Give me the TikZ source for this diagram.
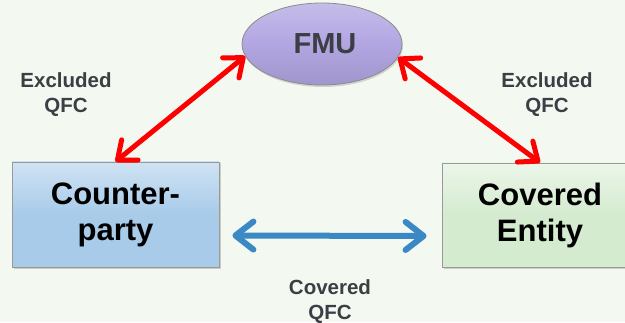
\documentclass[tikz,border=0pt]{standalone}
\usepackage{fontspec}
\setmainfont{Liberation Sans}
\usetikzlibrary{arrows.meta,shapes.geometric,shadows}
\definecolor{bgcol}{HTML}{F3F8F0}
\definecolor{txtgray}{HTML}{3B3E44}
\definecolor{cptyblue}{HTML}{A8CBE9}
\definecolor{entgreen}{HTML}{D4EBCF}
\definecolor{fmulav}{HTML}{B2A6E2}
\definecolor{arrowblue}{HTML}{3A89C5}
\tikzset{
	party/.style={draw=black!40, line width=0.8pt, rectangle, align=center, font=\fontsize{31}{36}\selectfont\bfseries, drop shadow={opacity=0.35, shadow xshift=1.5pt, shadow yshift=-1.5pt}},
	qfclabel/.style={align=center, text=txtgray, font=\fontsize{20.5}{25}\selectfont\bfseries},
	redlink/.style={draw=red, line width=5pt, line cap=round, {Straight Barb[length=16pt, width=26pt, round]}-{Straight Barb[length=16pt, width=26pt, round]}},
	bluelink/.style={draw=arrowblue, line width=6pt, line cap=round, {Straight Barb[length=18pt, width=28pt, round]}-{Straight Barb[length=18pt, width=28pt, round]}}
}

\begin{document}
\begin{tikzpicture}[x=1pt, y=1pt]
			%%%%% START %%%%%
			
			\fill[bgcol] (0, 0) rectangle (625, 322);
			\useasboundingbox (0, 0) rectangle (625, 322);
			
			\node[party, top color=cptyblue!55!white, bottom color=cptyblue, middle color=cptyblue, minimum width=207pt, minimum height=105pt] (cpty) at (115.5, 107.5) {Counter-\\party};
			\node[party, top color=entgreen!45!white, bottom color=entgreen, middle color=entgreen, minimum width=196pt, minimum height=104pt] (entity) at (540, 107) {Covered\\Entity};
			
			\node[ellipse, draw=black!45, line width=0.8pt, top color=fmulav!75!white, bottom color=fmulav!90!black, middle color=fmulav, minimum width=160pt, minimum height=82pt, text=txtgray, font=\fontsize{29}{32}\selectfont\bfseries, drop shadow={opacity=0.3, shadow xshift=1pt, shadow yshift=-2pt}] (fmu) at (322, 278) {\hspace{6pt}\raisebox{-7pt}{FMU}};
			
			\node[qfclabel] (exleft) at (66, 227) {Excluded\\QFC};
			\node[qfclabel] (exright) at (547, 227) {Excluded\\QFC};
			\node[qfclabel] (covqfc) at (330, 20) {Covered\\QFC};
			
			\draw[redlink] (cpty.north) -- (fmu.189);
			\draw[redlink] (entity.north) -- (fmu.350);
			\draw[bluelink] ([shift={(13pt,-21pt)}]cpty.east) -- ([shift={(-15pt,-21pt)}]entity.west);
			
			%%%%% END %%%%%
\end{tikzpicture}
\end{document}
